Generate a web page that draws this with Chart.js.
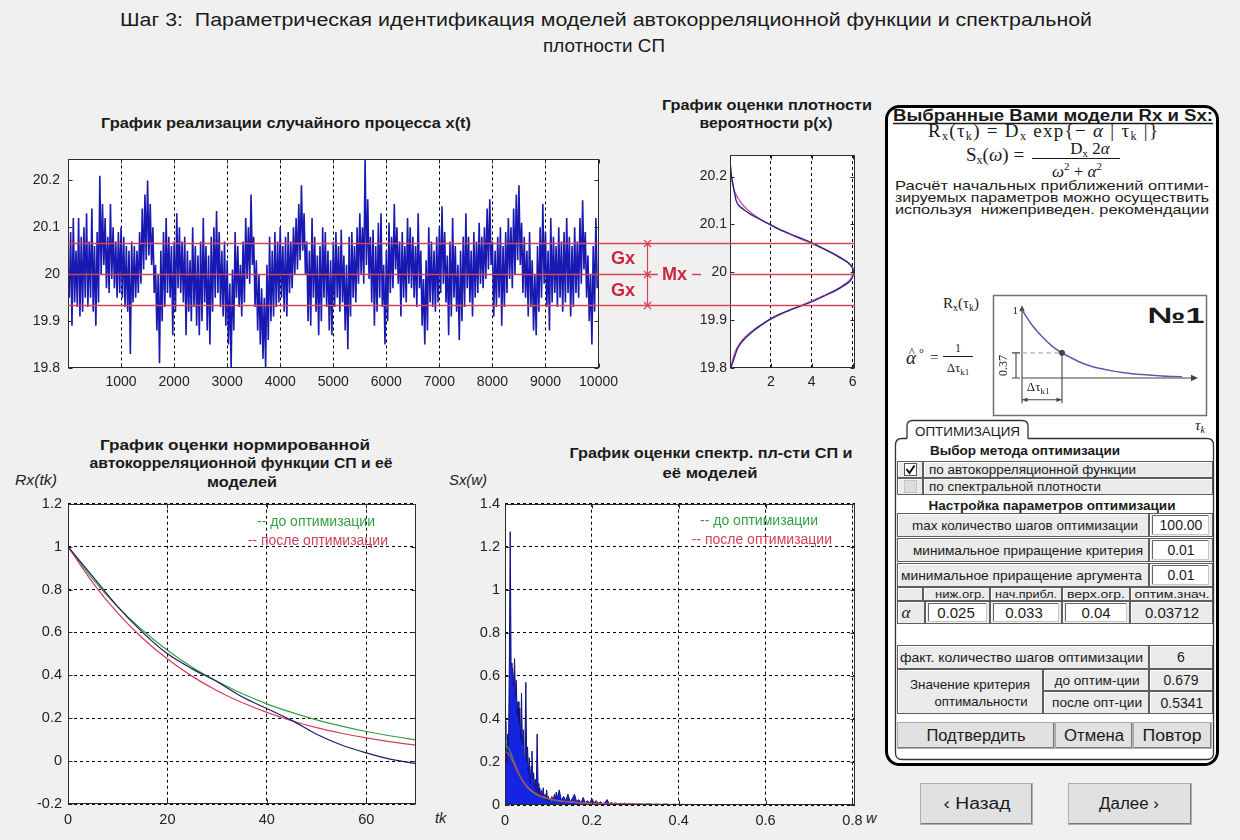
<!DOCTYPE html>
<html lang="ru">
<head>
<meta charset="utf-8">
<title>Шаг 3: Параметрическая идентификация</title>
<script src="https://cdn.jsdelivr.net/npm/chart.js@4.4.1/dist/chart.umd.min.js"></script>
<style>
  html, body { margin: 0; padding: 0; background: #f0f0f0; }
  #page { position: relative; width: 1240px; height: 840px; overflow: hidden; }
  #page canvas, #page svg { position: absolute; }
</style>
</head>
<body>
<div id="page">
<svg id="deco" width="1240" height="840" style="left:0;top:0" font-family="Liberation Sans, Arial, sans-serif" fill="#1a1a1a">
  <!-- page heading -->
  <text x="606" y="26" font-size="18" text-anchor="middle" xml:space="preserve" textLength="972" lengthAdjust="spacingAndGlyphs">Шаг 3:  Параметрическая идентификация моделей автокорреляционной функции и спектральной</text>
  <text x="604" y="52" font-size="18" text-anchor="middle" textLength="122" lengthAdjust="spacingAndGlyphs">плотности СП</text>

  <!-- plot headings -->
  <g font-weight="bold" font-size="14.5" text-anchor="middle">
    <text x="286" y="128" textLength="370" lengthAdjust="spacingAndGlyphs">График реализации случайного процесса x(t)</text>
    <text x="767" y="110" textLength="210" lengthAdjust="spacingAndGlyphs">График оценки плотности</text>
    <text x="766" y="128" textLength="133" lengthAdjust="spacingAndGlyphs">вероятности p(x)</text>
    <text x="235" y="450" textLength="270" lengthAdjust="spacingAndGlyphs">График оценки нормированной</text>
    <text x="241" y="468" textLength="303" lengthAdjust="spacingAndGlyphs">автокорреляционной функции СП и её</text>
    <text x="242" y="487" textLength="70" lengthAdjust="spacingAndGlyphs">моделей</text>
    <text x="711" y="458" textLength="283" lengthAdjust="spacingAndGlyphs">График оценки спектр. пл-сти СП и</text>
    <text x="710" y="478" textLength="95" lengthAdjust="spacingAndGlyphs">её моделей</text>
  </g>
  <g font-style="italic" font-size="14.5" fill="#222">
    <text x="15" y="485" textLength="42" lengthAdjust="spacingAndGlyphs">Rx(tk)</text>
    <text x="449" y="485" textLength="38" lengthAdjust="spacingAndGlyphs">Sx(w)</text>
    <text x="435" y="823">tk</text>
    <text x="866" y="823">w</text>
  </g>

  <!-- model panel -->
  <rect x="886.5" y="106.5" width="331" height="658" rx="13" fill="#fff" stroke="#000" stroke-width="3"/>
  <text x="1053" y="121" font-size="16" font-weight="bold" text-anchor="middle" textLength="320" lengthAdjust="spacingAndGlyphs">Выбранные Вами модели Rx и Sx:</text>
  <line x1="893" y1="123.5" x2="1213" y2="123.5" stroke="#1a1a1a" stroke-width="1.3"/>

  <g font-family="Liberation Serif, Times New Roman, serif">
    <text x="1043" y="136.5" font-size="19" text-anchor="middle" textLength="230" lengthAdjust="spacing">R<tspan font-size="12" dy="3">x</tspan><tspan dy="-3">(τ</tspan><tspan font-size="12" dy="3">k</tspan><tspan dy="-3">) = D</tspan><tspan font-size="12" dy="3">x</tspan><tspan dy="-3">  exp{− </tspan><tspan font-style="italic">α</tspan><tspan> | τ</tspan><tspan font-size="12" dy="3">k</tspan><tspan dy="-3"> |}</tspan></text>
    <text x="966" y="161" font-size="19">S<tspan font-size="12" dy="3">x</tspan><tspan dy="-3">(</tspan><tspan font-style="italic">ω</tspan><tspan>) =</tspan></text>
    <text x="1090" y="153.5" font-size="17" text-anchor="middle">D<tspan font-size="11" dy="3">x</tspan><tspan dy="-3"> 2</tspan><tspan font-style="italic">α</tspan></text>
    <line x1="1032" y1="158.5" x2="1120" y2="158.5" stroke="#1a1a1a" stroke-width="1"/>
    <text x="1077" y="177" font-size="17" text-anchor="middle"><tspan font-style="italic">ω</tspan><tspan font-size="11" dy="-7">2</tspan><tspan dy="7"> + </tspan><tspan font-style="italic">α</tspan><tspan font-size="11" dy="-7">2</tspan></text>
  </g>

  <g font-size="13.5">
    <text x="895" y="190" textLength="314" lengthAdjust="spacingAndGlyphs">Расчёт начальных приближений оптими-</text>
    <text x="895" y="202" textLength="314" lengthAdjust="spacingAndGlyphs">зируемых параметров можно осуществить</text>
    <text x="895" y="213.5" xml:space="preserve" textLength="314" lengthAdjust="spacingAndGlyphs">используя  нижеприведен. рекомендации</text>
  </g>

  <!-- recommendation sketch frame and labels -->
  <rect x="993.5" y="295.5" width="213" height="120" fill="#fff" stroke="#707070" stroke-width="1.5"/>
  <g font-family="Liberation Serif, Times New Roman, serif" font-size="15">
    <text x="943" y="308">R<tspan font-size="10" dy="3">x</tspan><tspan dy="-3">(τ</tspan><tspan font-size="10" dy="3">k</tspan><tspan dy="-3">)</tspan></text>
    <text x="1195" y="430" font-style="italic">τ<tspan font-size="10" dy="3">k</tspan></text>
    <text x="906" y="364" font-size="19" font-style="italic">α</text>
    <text x="909" y="356" font-size="12">^</text>
    <text x="919" y="357" font-size="12">°</text>
    <text x="930" y="362">=</text>
    <text x="958" y="352" font-size="12" text-anchor="middle">1</text>
    <line x1="943" y1="356.5" x2="973" y2="356.5" stroke="#1a1a1a" stroke-width="1"/>
    <text x="958" y="372" font-size="13" text-anchor="middle">Δτ<tspan font-size="9" dy="3">k1</tspan></text>
  </g>
  <text x="1176" y="323" font-size="22" font-weight="bold" text-anchor="middle" textLength="57" lengthAdjust="spacingAndGlyphs">№1</text>

  <!-- optimisation tab -->
  <path d="M 907 438.5 L 907 426 Q 907 420.5 913 420.5 L 1022 420.5 Q 1028 420.5 1028 426 L 1028 438.5" fill="#fff" stroke="#333" stroke-width="1.3"/>
  <text x="967.5" y="436" font-size="12.5" text-anchor="middle" textLength="105" lengthAdjust="spacingAndGlyphs">ОПТИМИЗАЦИЯ</text>
  <path d="M 1028 438.5 L 1207 438.5 Q 1213.5 438.5 1213.5 445 L 1213.5 753 Q 1213.5 759.5 1207 759.5 L 902 759.5 Q 895.5 759.5 895.5 753 L 895.5 445 Q 895.5 438.5 902 438.5 L 907 438.5" fill="none" stroke="#333" stroke-width="1.3"/>
  <text x="1025" y="454.5" font-size="13.5" font-weight="bold" text-anchor="middle" textLength="190" lengthAdjust="spacingAndGlyphs">Выбор метода оптимизации</text>
  <text x="1052" y="509.5" font-size="13.5" font-weight="bold" text-anchor="middle" textLength="247" lengthAdjust="spacingAndGlyphs">Настройка параметров оптимизации</text>
  <g id="cells"></g>
</svg>

<canvas id="cX" width="600" height="251" style="left:24px;top:143px"></canvas>
<canvas id="cD" width="177" height="251" style="left:688px;top:143px"></canvas>
<canvas id="cR" width="411" height="341" style="left:20px;top:489px"></canvas>
<canvas id="cS" width="413" height="341" style="left:457px;top:490px"></canvas>
<canvas id="cM" width="212" height="119" style="left:994px;top:296px"></canvas>
<canvas id="annot" width="1240" height="840" style="left:0;top:0;pointer-events:none"></canvas>
</div>

<script>
// ---------------- data ----------------
// realisation x(t): upper / lower excursion inside every 50-sample block
const X_BLOCK = 50;
const X_HI = [
  20.02,20.09,20.12,20.05,20.12,20.08,20.10,20.13,20.07,20.14,
  20.06,20.09,20.21,20.15,20.12,20.08,20.15,20.10,20.07,20.09,
  20.10,20.08,20.06,20.05,20.07,20.06,20.05,20.09,20.14,20.17,
  20.20,20.15,20.10,20.02,20.00,20.05,20.09,20.12,20.08,20.06,
  20.07,20.13,20.10,20.07,20.08,20.05,20.03,20.10,20.06,20.04,
  20.07,20.12,20.06,20.04,20.08,20.10,20.135,20.09,20.05,20.07,
  20.03,19.98,20.01,20.09,20.06,20.02,20.07,20.12,20.10,20.17,
  20.08,20.03,20.00,19.97,19.95,20.02,20.08,20.05,20.09,20.07,
  20.10,20.06,20.08,20.09,20.07,20.10,20.12,20.15,20.19,20.13,
  20.07,20.05,20.12,20.08,20.04,20.06,20.10,20.09,20.05,20.03,
  20.07,20.09,20.06,20.095,20.04,20.02,20.08,20.09,20.06,20.10,
  20.13,20.10,20.245,20.16,20.08,20.095,20.06,20.11,20.13,20.02,
  20.05,20.11,20.08,20.15,20.10,20.07,20.09,20.06,20.12,20.10,
  20.08,20.06,20.13,20.05,19.99,20.03,20.10,20.07,20.05,20.08,
  20.10,20.145,20.09,20.04,20.07,20.12,20.06,20.02,20.05,20.08,
  20.13,20.08,20.05,20.09,20.07,20.11,20.08,20.10,20.14,20.16,
  20.07,20.05,20.08,20.10,20.06,20.09,20.12,20.10,20.14,20.17,
  20.19,20.11,20.08,20.05,20.09,20.03,20.00,20.06,20.10,20.15,
  20.09,20.05,20.12,20.08,20.06,20.10,20.07,20.09,20.12,20.08,
  20.06,20.10,20.07,20.12,20.158,20.09,20.04,20.00,20.06,20.12
];
const X_LO = [
  19.95,19.89,19.94,19.93,19.91,19.92,19.95,19.93,19.95,19.92,
  19.89,19.94,20.00,20.02,19.97,19.96,19.99,19.97,19.95,19.96,
  19.95,19.93,19.92,19.83,19.94,19.95,19.96,19.98,20.01,20.03,
  20.04,20.02,19.96,19.88,19.81,19.90,19.93,19.96,19.95,19.87,
  19.92,19.97,19.96,19.94,19.87,19.92,19.90,19.93,19.89,19.87,
  19.90,19.94,19.88,19.85,19.92,19.95,19.96,19.93,19.91,19.89,
  19.85,19.80,19.88,19.95,19.93,19.91,19.94,19.99,19.98,20.02,
  19.93,19.88,19.85,19.82,19.80,19.86,19.90,19.91,19.93,19.94,
  19.95,19.92,19.91,19.96,19.97,20.00,20.01,20.03,20.05,20.00,
  19.90,19.89,19.95,19.92,19.87,19.90,19.95,19.93,19.88,19.87,
  19.93,19.95,19.92,19.94,19.88,19.84,19.91,19.95,19.94,19.98,
  20.00,19.98,20.02,19.99,19.94,19.89,19.92,19.95,19.93,19.85,
  19.90,19.96,19.97,20.01,19.98,19.91,19.95,19.94,19.98,19.97,
  19.95,19.93,19.97,19.89,19.85,19.88,19.94,19.93,19.92,19.94,
  19.96,19.98,19.94,19.87,19.91,19.95,19.92,19.86,19.90,19.93,
  19.97,19.94,19.91,19.95,19.96,19.98,19.97,19.99,20.01,20.02,
  19.91,19.93,19.95,19.89,19.93,19.96,19.99,19.97,20.00,20.03,
  20.02,19.96,19.95,19.91,19.93,19.88,19.87,19.92,19.95,19.98,
  19.93,19.88,19.94,19.96,19.93,19.95,19.92,19.94,19.96,19.91,
  19.93,19.96,19.95,19.98,20.01,19.95,19.90,19.85,19.92,19.97
];
const X_TICKS_T = [1000,2000,3000,4000,5000,6000,7000,8000,9000,10000];
const X_TICKS_V = [19.8,19.9,20,20.1,20.2];

// mean and ±sigma levels of the process
const LEVEL_NAMES = ['Gx','Mx','Gx'];
const LEVEL_VALUES = [20.066, 20.0, 19.934];

// probability density p(x)
const DENS_LEVELS = [19.80,19.81,19.82,19.83,19.84,19.85,19.86,19.87,19.88,19.89,19.90,19.91,19.92,19.93,19.94,
  19.95,19.96,19.97,19.98,19.99,20.00,20.01,20.02,20.03,20.04,20.05,20.06,20.07,20.08,20.09,20.10,
  20.11,20.12,20.13,20.14,20.15,20.16,20.17,20.18,20.19,20.20,20.21,20.22,20.23,20.24];
const DENS_EST = [0.02,0.12,0.20,0.28,0.36,0.50,0.70,0.95,1.22,1.55,1.88,2.30,2.85,3.50,4.10,
  4.60,5.10,5.50,5.85,6.00,6.05,6.00,5.80,5.40,5.00,4.55,4.10,3.55,2.95,2.40,1.95,
  1.50,1.05,0.70,0.42,0.30,0.25,0.20,0.16,0.12,0.08,0.05,0.03,0.01,0.00];
const DENS_MODEL = [0.06,0.10,0.15,0.22,0.32,0.46,0.64,0.87,1.16,1.51,1.92,2.38,2.90,3.44,4.00,
  4.53,5.03,5.45,5.77,5.97,6.04,5.97,5.77,5.45,5.03,4.53,4.00,3.44,2.90,2.38,1.92,
  1.51,1.16,0.87,0.64,0.46,0.32,0.22,0.15,0.10,0.06,0.04,0.02,0.01,0.01];
const DENS_TICKS = [2,4,6];

// normalised autocorrelation
const RX_TK     = [0,5,10,15,20,25,30,35,40,45,50,55,60,65,70];
const RX_EST    = [1.00,0.86,0.72,0.60,0.50,0.43,0.37,0.30,0.245,0.19,0.125,0.075,0.038,0.008,-0.012];
const RX_BEFORE = [1.00,0.848,0.719,0.610,0.517,0.438,0.372,0.315,0.267,0.227,0.192,0.163,0.138,0.117,0.099];
const RX_AFTER  = [1.00,0.831,0.690,0.573,0.476,0.395,0.328,0.273,0.227,0.188,0.156,0.130,0.108,0.090,0.074];
const RX_TICKS_X = [0,20,40,60];
const RX_TICKS_Y = [-0.2,0,0.2,0.4,0.6,0.8,1,1.2];

// spectral density estimate on three frequency grids
const SX_GRID = [[0, 0.002, 61], [0.125, 0.005, 36], [0.31, 0.01, 50]];
const SX_EST = [
  0.39,0.30,0.20,0.33,0.25,0.66,1.27,0.66,0.65,0.62,
  0.55,0.68,0.50,0.58,0.42,0.48,0.38,0.45,0.30,0.52,
  0.28,0.35,0.22,0.30,0.57,0.20,0.27,0.14,0.22,0.10,
  0.18,0.25,0.12,0.15,0.08,0.12,0.06,0.33,0.10,0.05,
  0.08,0.04,0.07,0.03,0.08,0.03,0.05,0.02,0.07,0.02,
  0.04,0.02,0.03,0.01,0.04,0.02,0.03,0.05,0.02,0.06,
  0.03,
  0.07,0.02,0.04,0.02,0.05,0.015,0.03,0.05,0.015,0.025,
  0.01,0.035,0.01,0.02,0.01,0.03,0.01,0.02,0.008,0.015,
  0.006,0.01,0.025,0.006,0.012,0.005,0.01,0.004,0.008,0.004,
  0.009,0.003,0.007,0.003,0.006,0.003,
  0.005,0.002,0.006,0.002,0.004,0.002,0.005,0.001,0.004,0.002,
  0.003,0.001,0.003,0.001,0.002,0.001,0.002,0.001,0.002,0.001,
  0.002,0.001,0.002,0.001,0.001,0.002,0.001,0.001,0.002,0.001,
  0.001,0.001,0.002,0.001,0.001,0.001,0.002,0.001,0.001,0.001,
  0.001,0.001,0.001,0.002,0.001,0.001,0.001,0.001,0.001,0.001
];
const SX_MODEL_W = [0,0.01,0.02,0.03,0.04,0.05,0.06,0.07,0.08,0.10,0.12,0.15,0.20,0.30,0.40,0.50,0.60,0.70,0.80];
const SX_BEFORE  = [0.281,0.257,0.205,0.154,0.114,0.085,0.065,0.051,0.041,0.028,0.020,0.013,0.0074,0.0034,0.0019,0.0012,0.0009,0.0006,0.0005];
const SX_AFTER   = [0.250,0.233,0.194,0.151,0.116,0.089,0.069,0.055,0.044,0.030,0.022,0.0144,0.0083,0.0038,0.0021,0.0014,0.0010,0.0007,0.0005];
const SX_TICKS_X = [0,0.2,0.4,0.6,0.8];
const SX_TICKS_Y = [0,0.2,0.4,0.6,0.8,1,1.2,1.4];

// recommendation sketch: exp(-tau) and the 1/e point
const MINI_TAU = [0,0.25,0.5,0.75,1,1.25,1.5,1.75,2,2.25,2.5,2.75,3,3.5,4];
const MINI_R   = [1,0.78,0.61,0.47,0.37,0.29,0.22,0.17,0.135,0.105,0.082,0.064,0.05,0.03,0.018];
const MINI_MARK = [1, 0.37];

// ---------------- panel controls ----------------
const NS = 'http://www.w3.org/2000/svg';
const cells = document.getElementById('cells');
function add(tag, attrs, text) {
  const e = document.createElementNS(NS, tag);
  for (const k in attrs) e.setAttribute(k, attrs[k]);
  if (text != null) e.textContent = text;
  cells.appendChild(e);
  return e;
}
function txt(x, y, s, size, len, extra) {
  const a = { x, y, 'font-size': size || 13.5, 'text-anchor': 'middle' };
  if (len) { a.textLength = len; a.lengthAdjust = 'spacingAndGlyphs'; }
  return add('text', Object.assign(a, extra || {}), s);
}
function raised(x, y, w, h) {
  add('rect', { x: x + 0.5, y: y + 0.5, width: w - 1, height: h - 1, fill: '#ebebeb', stroke: '#5e5e5e', 'stroke-width': 1 });
  add('polyline', { points: `${x + 1.5},${y + h - 2} ${x + 1.5},${y + 1.5} ${x + w - 2},${y + 1.5}`, fill: 'none', stroke: '#fff', 'stroke-width': 1 });
}
function sunken(x, y, w, h) {
  add('rect', { x: x + 0.5, y: y + 0.5, width: w - 1, height: h - 1, fill: '#fff', stroke: '#c8c8c8', 'stroke-width': 1 });
  add('polyline', { points: `${x + 0.5},${y + h - 1} ${x + 0.5},${y + 0.5} ${x + w - 1},${y + 0.5}`, fill: 'none', stroke: '#646464', 'stroke-width': 1 });
}
function button(x, y, w, h) {
  add('rect', { x: x + 0.5, y: y + 0.5, width: w - 1, height: h - 1, fill: '#e1e1e1', stroke: '#adadad', 'stroke-width': 1 });
  add('polyline', { points: `${x + 1},${y + h - 1.5} ${x + w - 1.5},${y + h - 1.5} ${x + w - 1.5},${y + 1}`, fill: 'none', stroke: '#7a7a7a', 'stroke-width': 1 });
}

// method choice
raised(897, 461, 26, 17); raised(923, 461, 290, 17);
raised(897, 478, 26, 17); raised(923, 478, 290, 17);
add('rect', { x: 904.5, y: 463.5, width: 12, height: 12, fill: '#fff', stroke: '#555' });
add('polyline', { points: '906.5,469 909.5,473 914.5,465.5', fill: 'none', stroke: '#111', 'stroke-width': 2 });
add('rect', { x: 904.5, y: 480.5, width: 12, height: 12, fill: '#dedede', stroke: '#c4c4c4' });
txt(929, 474, 'по автокорреляционной функции', 12.5, 207, { 'text-anchor': 'start' });
txt(929, 491, 'по спектральной плотности', 12.5, 172, { 'text-anchor': 'start' });

// optimisation settings
raised(897, 513, 252, 24); raised(1149, 513, 64, 24); sunken(1152, 515, 57, 20);
txt(1025, 530, 'max количество шагов оптимизации', 13.5, 226);
txt(1181, 530, '100.00', 14);
raised(897, 538, 252, 24); raised(1149, 538, 64, 24); sunken(1152, 540, 57, 20);
txt(1028, 555, 'минимальное приращение критерия', 13.5, 230);
txt(1181, 555, '0.01', 14);
raised(897, 563, 252, 24); raised(1149, 563, 64, 24); sunken(1152, 565, 57, 20);
txt(1021.5, 580, 'минимальное приращение аргумента', 13.5, 241);
txt(1181, 580, '0.01', 14);

[[897, 26], [923, 67], [990, 72], [1062, 68], [1130, 83]].forEach(([x, w]) => raised(x, 587, w, 14));
txt(960, 598, 'ниж.огр.', 11, 50);
txt(1026, 598, 'нач.прибл.', 11, 62);
txt(1096, 598, 'верх.огр.', 11, 58);
txt(1172, 598, 'оптим.знач.', 11, 75);
[[897, 28], [925, 65], [990, 72], [1062, 68], [1130, 83]].forEach(([x, w]) => raised(x, 601, w, 23));
sunken(928, 603, 59, 19); sunken(993, 603, 66, 19); sunken(1065, 603, 62, 19);
txt(906, 618, 'α', 17, null, { 'font-family': 'Liberation Serif, serif', 'font-style': 'italic' });
txt(956, 618, '0.025', 15);
txt(1024, 618, '0.033', 15);
txt(1096, 618, '0.04', 15);
txt(1172, 618, '0.03712', 15);

// optimisation results
raised(897, 645, 252, 24); raised(1149, 645, 64, 24);
txt(1021.5, 662, 'факт. количество шагов оптимизации', 13.5, 243);
txt(1181, 662, '6', 14);
raised(897, 669, 146, 45);
txt(970, 689, 'Значение критерия', 13.5, 120);
txt(981, 706, 'оптимальности', 13.5, 93);
raised(1043, 669, 106, 22); raised(1149, 669, 64, 22);
txt(1097, 684.5, 'до оптим-ции', 13, 85);
txt(1181, 685, '0.679', 14);
raised(1043, 691, 106, 23); raised(1149, 691, 64, 23);
txt(1097, 707, 'после опт-ции', 13, 90);
txt(1182, 707.5, '0.5341', 14);

button(897, 722, 158, 27); txt(976, 740.5, 'Подтвердить', 16, 99);
button(1055, 722, 78, 27); txt(1094, 740.5, 'Отмена', 16, 60);
button(1133, 722, 79, 27); txt(1172, 740.5, 'Повтор', 16, 59);

// navigation
button(920, 783, 113, 42); txt(977, 809, '‹ Назад', 16, 67);
button(1068, 783, 124, 42); txt(1129, 809, 'Далее ›', 16, 60);

// ---------------- charts ----------------
const SANS = '"Liberation Sans", Arial, sans-serif';
const SERIF = '"Liberation Serif", "Times New Roman", serif';
Chart.defaults.font.family = SANS;
Chart.defaults.color = '#222';

function fmt(v) { return String(+Number(v).toFixed(3)); }

function axis(ticks, min, max, o) {
  return {
    type: 'linear', min, max,
    afterBuildTicks: s => { s.ticks = ticks.map(v => ({ value: v })); },
    afterFit: s => { if (o.width != null) s.width = o.width; if (o.height != null) s.height = o.height; },
    ticks: { autoSkip: false, maxRotation: 0, minRotation: 0, padding: o.pad, color: '#222',
             font: { family: SANS, size: o.size }, callback: v => fmt(v) },
    grid: { display: !!o.grid, color: '#000', lineWidth: 1, drawTicks: false },
    border: { display: false, dash: [3, 3] }
  };
}

// white plot box, inner tick marks and in-plot captions
const framePlugin = {
  id: 'frame',
  beforeDraw(chart) {
    const a = chart.chartArea, c = chart.ctx;
    c.save(); c.fillStyle = '#fff'; c.fillRect(a.left, a.top, a.right - a.left, a.bottom - a.top); c.restore();
  },
  afterDraw(chart, args, opts) {
    const a = chart.chartArea, c = chart.ctx, xs = chart.scales.x, ys = chart.scales.y;
    const L = Math.round(a.left) + 0.5, R = Math.round(a.right) - 0.5;
    const T = Math.round(a.top) + 0.5, B = Math.round(a.bottom) - 0.5;
    c.save();
    c.strokeStyle = '#2b2b2b'; c.lineWidth = 1; c.beginPath();
    xs.ticks.forEach(t => { const p = Math.round(xs.getPixelForValue(t.value)) + 0.5;
      c.moveTo(p, B); c.lineTo(p, B - 4); c.moveTo(p, T); c.lineTo(p, T + 4); });
    ys.ticks.forEach(t => { const p = Math.round(ys.getPixelForValue(t.value)) + 0.5;
      c.moveTo(L, p); c.lineTo(L + 4, p); c.moveTo(R, p); c.lineTo(R - 4, p); });
    c.stroke();
    c.strokeRect(L, T, R - L, B - T);
    (opts.notes || []).forEach(n => {
      c.font = '14px ' + SANS; c.fillStyle = n.color; c.textAlign = 'right'; c.textBaseline = 'alphabetic';
      c.fillText(n.text, a.right + n.dx, a.top + n.dy);
    });
    c.restore();
  }
};

function baseOptions(pad, scales, notes) {
  return {
    responsive: false, animation: false, events: [],
    layout: { autoPadding: false, padding: pad },
    plugins: { legend: { display: false }, tooltip: { enabled: false }, frame: { notes: notes || [] } },
    elements: { point: { radius: 0 } },
    scales
  };
}

// x(t)
const xPts = [];
X_HI.forEach((v, i) => {
  xPts.push({ x: i * X_BLOCK, y: v });
  xPts.push({ x: i * X_BLOCK + X_BLOCK / 2, y: X_LO[i] });
});
const chartX = new Chart(document.getElementById('cX'), {
  type: 'line',
  data: { datasets: [{ data: xPts, borderColor: '#1818b2', borderWidth: 1.6, tension: 0 }] },
  options: baseOptions({ top: 12, right: 20, left: 0, bottom: 0 }, {
    x: axis(X_TICKS_T, 0, 10000, { height: 26, pad: 6, size: 14, grid: true }),
    y: axis(X_TICKS_V, 19.8, 20.245, { width: 44, pad: 8, size: 14, grid: false })
  }),
  plugins: [framePlugin]
});

// p(x)
const chartD = new Chart(document.getElementById('cD'), {
  type: 'line',
  data: { datasets: [
    { data: DENS_LEVELS.map((v, i) => ({ x: DENS_EST[i], y: v })), borderColor: '#26267e', borderWidth: 1.3, tension: 0.3 },
    { data: DENS_LEVELS.map((v, i) => ({ x: DENS_MODEL[i], y: v })), borderColor: '#cc55a8', borderWidth: 1.4, tension: 0.3 }
  ] },
  options: baseOptions({ top: 12, right: 10, left: 0, bottom: 0 }, {
    x: axis(DENS_TICKS, 0, 6.12, { height: 26, pad: 6, size: 14, grid: true }),
    y: axis(X_TICKS_V, 19.8, 20.245, { width: 42, pad: 3, size: 14, grid: false })
  }),
  plugins: [framePlugin]
});

const NOTE_BEFORE = '-- до оптимизации';
const NOTE_AFTER = '-- после оптимизации';

// Rx(tk)
const chartR = new Chart(document.getElementById('cR'), {
  type: 'line',
  data: { datasets: [
    { data: RX_TK.map((t, i) => ({ x: t, y: RX_EST[i] })), borderColor: '#1c1c6e', borderWidth: 1.2, tension: 0.3 },
    { data: RX_TK.map((t, i) => ({ x: t, y: RX_AFTER[i] })), borderColor: '#d2405c', borderWidth: 1.2, cubicInterpolationMode: 'monotone' },
    { data: RX_TK.map((t, i) => ({ x: t, y: RX_BEFORE[i] })), borderColor: '#35a043', borderWidth: 1.2, cubicInterpolationMode: 'monotone' }
  ] },
  options: baseOptions({ top: 12, right: 15, left: 0, bottom: 0 }, {
    x: axis(RX_TICKS_X, 0, 70, { height: 26, pad: 7, size: 14.5, grid: true }),
    y: axis(RX_TICKS_Y, -0.2, 1.2, { width: 48, pad: 6, size: 14.5, grid: true })
  }, [
    { text: NOTE_BEFORE, color: '#35a043', dx: -41, dy: 22 },
    { text: NOTE_AFTER, color: '#d2405c', dx: -28, dy: 41 }
  ]),
  plugins: [framePlugin]
});

// Sx(w)
const sxW = [];
SX_GRID.forEach(([w0, dw, n]) => { for (let k = 0; k < n; k++) sxW.push(+(w0 + k * dw).toFixed(4)); });
const chartS = new Chart(document.getElementById('cS'), {
  type: 'line',
  data: { datasets: [
    { data: SX_MODEL_W.map((w, i) => ({ x: w, y: SX_AFTER[i] })), borderColor: '#d2405c', borderWidth: 1.2, cubicInterpolationMode: 'monotone' },
    { data: SX_MODEL_W.map((w, i) => ({ x: w, y: SX_BEFORE[i] })), borderColor: '#35a043', borderWidth: 1.2, cubicInterpolationMode: 'monotone' },
    { data: sxW.map((w, i) => ({ x: w, y: SX_EST[i] })), borderColor: '#12127e', backgroundColor: '#1424e0', borderWidth: 1, fill: 'origin', tension: 0 }
  ] },
  options: baseOptions({ top: 12, right: 15, left: 0, bottom: 0 }, {
    x: axis(SX_TICKS_X, 0, 0.806, { height: 26, pad: 7, size: 14.5, grid: true }),
    y: axis(SX_TICKS_Y, 0, 1.4, { width: 48, pad: 5, size: 14.5, grid: true })
  }, [
    { text: NOTE_BEFORE, color: '#35a043', dx: -37, dy: 21 },
    { text: NOTE_AFTER, color: '#d2405c', dx: -23, dy: 40 }
  ]),
  plugins: [framePlugin]
});

// recommendation sketch
function arrowHead(c, x, y, dir, size) {
  c.beginPath();
  if (dir === 'up') { c.moveTo(x, y); c.lineTo(x - size / 2.2, y + size); c.lineTo(x + size / 2.2, y + size); }
  if (dir === 'right') { c.moveTo(x, y); c.lineTo(x - size, y - size / 2.2); c.lineTo(x - size, y + size / 2.2); }
  if (dir === 'left') { c.moveTo(x, y); c.lineTo(x + size, y - size / 2.2); c.lineTo(x + size, y + size / 2.2); }
  c.closePath(); c.fill();
}
const sketchPlugin = {
  id: 'sketch',
  beforeDatasetsDraw(chart) {
    const c = chart.ctx, X = v => chart.scales.x.getPixelForValue(v), Y = v => chart.scales.y.getPixelForValue(v);
    const [mt, mr] = MINI_MARK;
    c.save();
    c.strokeStyle = '#444'; c.fillStyle = '#444'; c.lineWidth = 1.1;
    c.beginPath();
    c.moveTo(X(0), Y(-0.37)); c.lineTo(X(0), Y(1.02));
    c.moveTo(X(0), Y(0)); c.lineTo(X(4.25), Y(0));
    c.moveTo(X(mt), Y(mr)); c.lineTo(X(mt), Y(-0.37));
    c.moveTo(X(-0.25), Y(0)); c.lineTo(X(-0.05), Y(0));
    c.moveTo(X(-0.25), Y(mr)); c.lineTo(X(-0.05), Y(mr));
    c.moveTo(X(-0.15), Y(0)); c.lineTo(X(-0.15), Y(mr));
    c.moveTo(X(0), Y(-0.32)); c.lineTo(X(mt), Y(-0.32));
    c.stroke();
    arrowHead(c, X(0), Y(1.07), 'up', 6);
    arrowHead(c, X(4.4), Y(0), 'right', 7);
    arrowHead(c, X(0) + 0.5, Y(-0.32), 'left', 5);
    arrowHead(c, X(mt) - 0.5, Y(-0.32), 'right', 5);
    c.setLineDash([5, 3]); c.strokeStyle = '#b4b4b4';
    c.beginPath(); c.moveTo(X(0), Y(mr)); c.lineTo(X(mt), Y(mr)); c.stroke();
    c.setLineDash([]);
    c.fillStyle = '#222'; c.textBaseline = 'middle';
    c.font = '11px ' + SERIF; c.textAlign = 'right'; c.fillText('1', X(-0.1), Y(0.99));
    c.save(); c.translate(X(-0.45), Y(mr / 2)); c.rotate(-Math.PI / 2);
    c.textAlign = 'center'; c.font = '12px ' + SERIF; c.fillText(String(mr), 0, 0); c.restore();
    c.textAlign = 'left'; c.font = '13px ' + SERIF;
    const lx = X(0.12), ly = Y(-0.14);
    const w1 = c.measureText('Δτ').width;
    c.fillText('Δτ', lx, ly);
    c.font = '9px ' + SERIF; c.fillText('k1', lx + w1, ly + 4);
    c.restore();
  }
};
new Chart(document.getElementById('cM'), {
  type: 'line',
  data: { datasets: [
    { data: [{ x: MINI_MARK[0], y: MINI_MARK[1] }], showLine: false, pointRadius: 2.6, pointBackgroundColor: '#444', pointBorderColor: '#444' },
    { data: MINI_TAU.map((t, i) => ({ x: t, y: MINI_R[i] })), borderColor: '#5b5bab', borderWidth: 1.5, pointRadius: 0, cubicInterpolationMode: 'monotone' }
  ] },
  options: {
    responsive: false, animation: false, events: [],
    layout: { autoPadding: false, padding: 0 },
    plugins: { legend: { display: false }, tooltip: { enabled: false } },
    scales: {
      x: { type: 'linear', min: -0.7, max: 4.6, display: false },
      y: { type: 'linear', min: -0.544, max: 1.206, display: false }
    }
  },
  plugins: [sketchPlugin]
});

// Mx / Gx levels across the realisation and the density plot
(function drawLevels() {
  const cv = document.getElementById('annot'), ctx = cv.getContext('2d');
  const cX = document.getElementById('cX'), cD = document.getElementById('cD');
  const ys = chartX.scales.y;
  const py = LEVEL_VALUES.map(v => Math.round(cX.offsetTop + ys.getPixelForValue(v)) + 0.5);
  const xL = cX.offsetLeft + chartX.chartArea.left;
  const xR = cD.offsetLeft + chartD.chartArea.right;
  const xDL = cD.offsetLeft + chartD.chartArea.left;
  const red = '#d64356';
  ctx.strokeStyle = red; ctx.lineWidth = 1.6;
  ctx.beginPath();
  ctx.moveTo(xL, py[0]); ctx.lineTo(xR, py[0]);
  ctx.moveTo(xL, py[2]); ctx.lineTo(xR, py[2]);
  ctx.moveTo(xL, py[1]); ctx.lineTo(658, py[1]);
  ctx.moveTo(692, py[1]); ctx.lineTo(701, py[1]);
  ctx.moveTo(xDL, py[1]); ctx.lineTo(xR, py[1]);
  ctx.stroke();
  // range bar with cross marks
  ctx.lineWidth = 1.2;
  ctx.beginPath();
  ctx.moveTo(647.5, py[0]); ctx.lineTo(647.5, py[2]);
  py.forEach(y => { ctx.moveTo(644, y - 3.5); ctx.lineTo(651, y + 3.5); ctx.moveTo(644, y + 3.5); ctx.lineTo(651, y - 3.5); });
  ctx.stroke();
  ctx.fillStyle = '#c9283c'; ctx.font = 'bold 18px ' + SANS; ctx.textBaseline = 'middle'; ctx.textAlign = 'left';
  ctx.fillText(LEVEL_NAMES[0], 611, (py[0] + py[1]) / 2);
  ctx.fillText(LEVEL_NAMES[2], 611, (py[1] + py[2]) / 2 + 1);
  ctx.fillText(LEVEL_NAMES[1], 662, py[1] + 1);
})();
</script>
</body>
</html>
